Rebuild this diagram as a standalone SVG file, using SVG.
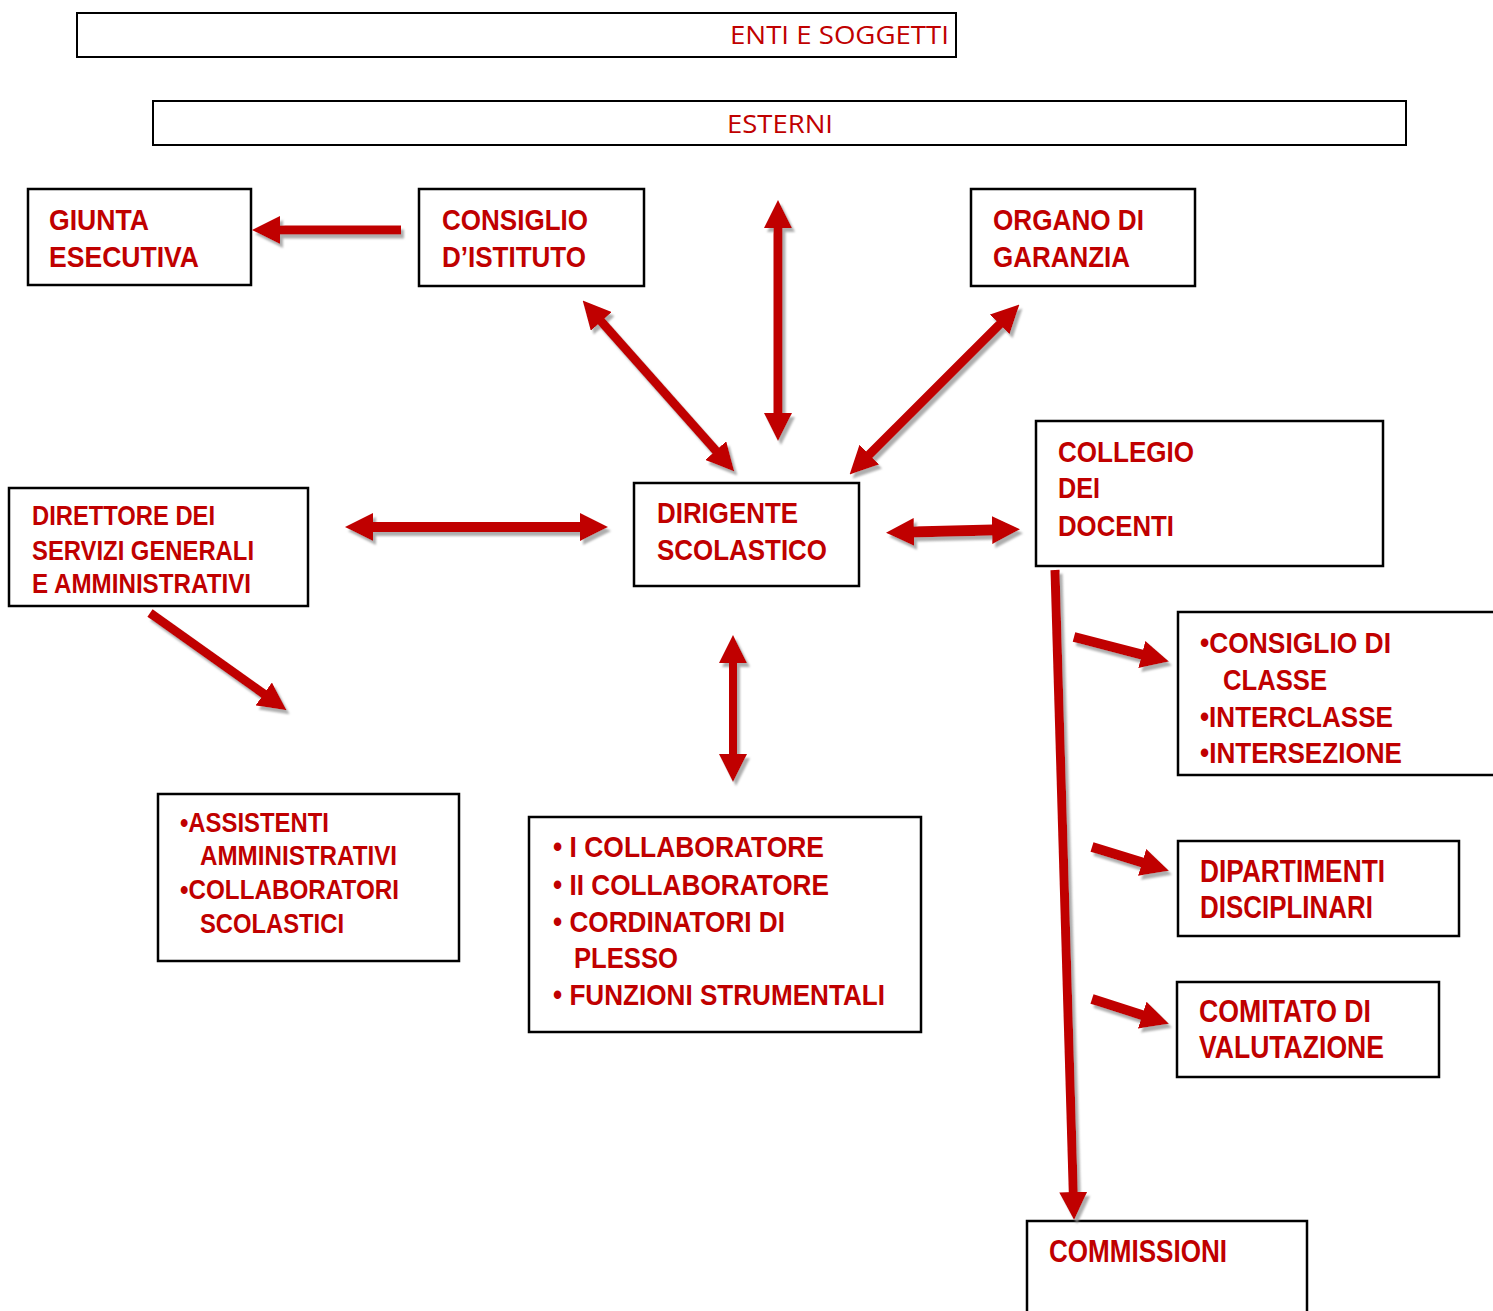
<svg xmlns="http://www.w3.org/2000/svg" width="1493" height="1311" viewBox="0 0 1493 1311">
<style>
  .box { fill: #ffffff; stroke: #000000; stroke-width: 2.5; }
  .hdr { fill: #ffffff; stroke: #000000; stroke-width: 2; }
  .t { font-family: "Liberation Sans Narrow", "Arial Narrow", "Liberation Sans", sans-serif; font-weight: bold; font-size: 30px; fill: #C00000; }
  .s { font-size: 27px; }
  .l { font-size: 32px; }
  .h { font-family: "Open Sans", "Liberation Sans", sans-serif; font-size: 26px; fill: #C00000; }
  .arr { stroke: #C00000; stroke-width: 9; fill: none; }
</style>
<defs>
  <marker id="head" markerUnits="userSpaceOnUse" markerWidth="28" markerHeight="28" refX="1" refY="14" orient="auto-start-reverse" viewBox="0 0 28 28">
    <path d="M0,0 L28,14 L0,28 z" fill="#C00000"/>
  </marker>
  <filter id="shadow" x="-20%" y="-20%" width="140%" height="140%">
    <feDropShadow dx="3" dy="4" stdDeviation="1.2" flood-color="#9a9a9a" flood-opacity="0.8"/>
  </filter>
</defs>

<g id="enti-soggetti">
  <rect class="hdr" x="77" y="13" width="879" height="44"/>
  <text class="h" x="730" y="44" textLength="219" lengthAdjust="spacingAndGlyphs">ENTI E SOGGETTI</text>
</g>
<g id="esterni">
  <rect class="hdr" x="153" y="101" width="1253" height="44"/>
  <text class="h" x="727" y="133" textLength="106" lengthAdjust="spacingAndGlyphs">ESTERNI</text>
</g>

<g id="giunta">
  <rect class="box" x="28" y="189" width="223" height="96"/>
  <text class="t" x="49" y="230" textLength="100" lengthAdjust="spacingAndGlyphs">GIUNTA</text>
  <text class="t" x="49" y="267" textLength="150" lengthAdjust="spacingAndGlyphs">ESECUTIVA</text>
</g>
<g id="consiglio-istituto">
  <rect class="box" x="419" y="189" width="225" height="97"/>
  <text class="t" x="442" y="230" textLength="146" lengthAdjust="spacingAndGlyphs">CONSIGLIO</text>
  <text class="t" x="442" y="267" textLength="144" lengthAdjust="spacingAndGlyphs">D’ISTITUTO</text>
</g>
<g id="organo-garanzia">
  <rect class="box" x="971" y="189" width="224" height="97"/>
  <text class="t" x="993" y="230" textLength="151" lengthAdjust="spacingAndGlyphs">ORGANO DI</text>
  <text class="t" x="993" y="267" textLength="137" lengthAdjust="spacingAndGlyphs">GARANZIA</text>
</g>
<g id="collegio">
  <rect class="box" x="1036" y="421" width="347" height="145"/>
  <text class="t" x="1058" y="462" textLength="136" lengthAdjust="spacingAndGlyphs">COLLEGIO</text>
  <text class="t" x="1058" y="498" textLength="42" lengthAdjust="spacingAndGlyphs">DEI</text>
  <text class="t" x="1058" y="536" textLength="116" lengthAdjust="spacingAndGlyphs">DOCENTI</text>
</g>
<g id="dirigente">
  <rect class="box" x="634" y="483" width="225" height="103"/>
  <text class="t" x="657" y="523" textLength="141" lengthAdjust="spacingAndGlyphs">DIRIGENTE</text>
  <text class="t" x="657" y="560" textLength="170" lengthAdjust="spacingAndGlyphs">SCOLASTICO</text>
</g>
<g id="direttore">
  <rect class="box" x="9" y="488" width="299" height="118"/>
  <text class="t s" x="32" y="525" textLength="183" lengthAdjust="spacingAndGlyphs">DIRETTORE DEI</text>
  <text class="t s" x="32" y="560" textLength="222" lengthAdjust="spacingAndGlyphs">SERVIZI GENERALI</text>
  <text class="t s" x="32" y="593" textLength="219" lengthAdjust="spacingAndGlyphs">E AMMINISTRATIVI</text>
</g>
<g id="assistenti">
  <rect class="box" x="158" y="794" width="301" height="167"/>
  <text class="t s" x="180" y="832" textLength="149" lengthAdjust="spacingAndGlyphs">•ASSISTENTI</text>
  <text class="t s" x="200" y="865" textLength="197" lengthAdjust="spacingAndGlyphs">AMMINISTRATIVI</text>
  <text class="t s" x="180" y="899" textLength="219" lengthAdjust="spacingAndGlyphs">•COLLABORATORI</text>
  <text class="t s" x="200" y="933" textLength="144" lengthAdjust="spacingAndGlyphs">SCOLASTICI</text>
</g>
<g id="collaboratori">
  <rect class="box" x="529" y="817" width="392" height="215"/>
  <text class="t" x="553" y="857" textLength="271" lengthAdjust="spacingAndGlyphs">• I COLLABORATORE</text>
  <text class="t" x="553" y="895" textLength="276" lengthAdjust="spacingAndGlyphs">• II COLLABORATORE</text>
  <text class="t" x="553" y="932" textLength="232" lengthAdjust="spacingAndGlyphs">• CORDINATORI DI</text>
  <text class="t" x="574" y="968" textLength="104" lengthAdjust="spacingAndGlyphs">PLESSO</text>
  <text class="t" x="553" y="1005" textLength="332" lengthAdjust="spacingAndGlyphs">• FUNZIONI STRUMENTALI</text>
</g>
<g id="consiglio-classe">
  <rect class="box" x="1178" y="612" width="330" height="163"/>
  <text class="t" x="1200" y="653" textLength="191" lengthAdjust="spacingAndGlyphs">•CONSIGLIO DI</text>
  <text class="t" x="1223" y="690" textLength="104" lengthAdjust="spacingAndGlyphs">CLASSE</text>
  <text class="t" x="1200" y="727" textLength="193" lengthAdjust="spacingAndGlyphs">•INTERCLASSE</text>
  <text class="t" x="1200" y="763" textLength="202" lengthAdjust="spacingAndGlyphs">•INTERSEZIONE</text>
</g>
<g id="dipartimenti">
  <rect class="box" x="1178" y="841" width="281" height="95"/>
  <text class="t l" x="1200" y="882" textLength="185" lengthAdjust="spacingAndGlyphs">DIPARTIMENTI</text>
  <text class="t l" x="1200" y="918" textLength="173" lengthAdjust="spacingAndGlyphs">DISCIPLINARI</text>
</g>
<g id="comitato">
  <rect class="box" x="1177" y="982" width="262" height="95"/>
  <text class="t l" x="1199" y="1022" textLength="172" lengthAdjust="spacingAndGlyphs">COMITATO DI</text>
  <text class="t l" x="1199" y="1058" textLength="185" lengthAdjust="spacingAndGlyphs">VALUTAZIONE</text>
</g>
<g id="commissioni">
  <rect class="box" x="1027" y="1221" width="280" height="100"/>
  <text class="t l" x="1049" y="1262" textLength="178" lengthAdjust="spacingAndGlyphs">COMMISSIONI</text>
</g>

<g id="connectors" filter="url(#shadow)">
  <line class="arr" x1="401" y1="230" x2="279" y2="230" marker-end="url(#head)"/>
  <line class="arr" x1="778" y1="227" x2="778" y2="414" marker-start="url(#head)" marker-end="url(#head)"/>
  <line class="arr" x1="600.6" y1="320.7" x2="716.4" y2="451.3" marker-start="url(#head)" marker-end="url(#head)"/>
  <line class="arr" x1="1000.3" y1="323.7" x2="868.7" y2="455.3" marker-start="url(#head)" marker-end="url(#head)"/>
  <line class="arr" style="stroke-width:10" x1="372" y1="527" x2="581" y2="527" marker-start="url(#head)" marker-end="url(#head)"/>
  <line class="arr" style="stroke-width:11" x1="913" y1="532" x2="993" y2="530" marker-start="url(#head)" marker-end="url(#head)"/>
  <line class="arr" x1="150" y1="613" x2="264.6" y2="694.5" marker-end="url(#head)"/>
  <line class="arr" style="stroke-width:8" x1="733" y1="662" x2="733" y2="755" marker-start="url(#head)" marker-end="url(#head)"/>
  <line class="arr" x1="1055" y1="570" x2="1073.3" y2="1193" marker-end="url(#head)"/>
  <line class="arr" style="stroke-width:10" x1="1074" y1="637" x2="1142.8" y2="654.8" marker-end="url(#head)"/>
  <line class="arr" style="stroke-width:10" x1="1092" y1="847" x2="1143.1" y2="862.7" marker-end="url(#head)"/>
  <line class="arr" style="stroke-width:10" x1="1092" y1="999" x2="1143.2" y2="1015.4" marker-end="url(#head)"/>
</g>
</svg>
